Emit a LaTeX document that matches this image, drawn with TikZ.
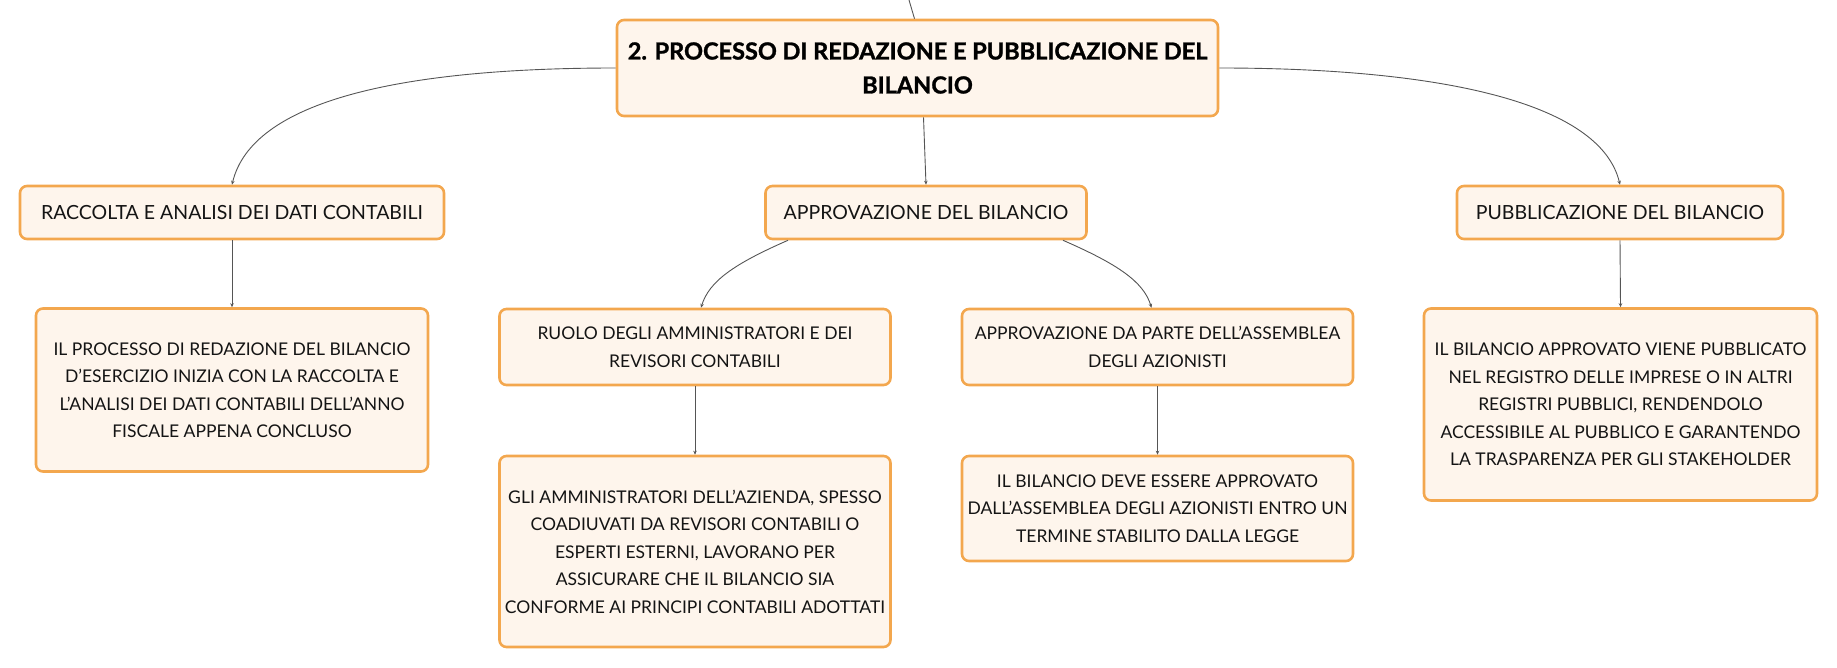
\documentclass[tikz,border=0pt]{standalone}
\usepackage{fontspec}
\setmainfont{Lato}
\newfontfamily\titlefont{Lato}[BoldFeatures={FakeBold=1.2}]
\usetikzlibrary{arrows.meta,calc}
\definecolor{boxfill}{HTML}{FEF5EC}
\definecolor{boxdraw}{HTML}{F3A74E}
\definecolor{linecol}{HTML}{555555}
\definecolor{txt}{HTML}{141414}
\begin{document}
\begin{tikzpicture}[x=1pt,y=1pt,
  box/.style={draw=boxdraw, line width=2.6pt, fill=boxfill, rounded corners=7pt,
    align=center, inner sep=0pt, text=txt, font=\fontsize{17.5}{27.5}\selectfont},
  lvlbox/.style={box, font=\fontsize{19.5}{28}\selectfont},
  titlebox/.style={box, text=black, font=\fontsize{23.5}{34}\selectfont\titlefont\bfseries},
  conn/.style={draw=linecol, line width=0.9pt},
  arr/.style={conn, -{Stealth[length=4pt,width=3.5pt]}}]
\useasboundingbox (0,0) rectangle (1837,-668);

\node[titlebox, minimum width=601pt, minimum height=96pt] (title) at (917.5,-68)
  {2. PROCESSO DI REDAZIONE E PUBBLICAZIONE DEL\\BILANCIO};

\node[lvlbox, minimum width=424pt, minimum height=53pt] (lc) at (232,-212.5)
  {RACCOLTA E ANALISI DEI DATI CONTABILI};
\node[lvlbox, minimum width=321pt, minimum height=53pt] (mc) at (926,-212.5)
  {APPROVAZIONE DEL BILANCIO};
\node[lvlbox, minimum width=326pt, minimum height=53pt] (rc) at (1620,-212.5)
  {PUBBLICAZIONE DEL BILANCIO};

\node[box, minimum width=392pt, minimum height=163pt] (ld) at (232,-390)
  {IL PROCESSO DI REDAZIONE DEL BILANCIO\\D’ESERCIZIO INIZIA CON LA RACCOLTA E\\L’ANALISI DEI DATI CONTABILI DELL’ANNO\\FISCALE APPENA CONCLUSO};
\node[box, minimum width=391pt, minimum height=76pt] (ruolo) at (695,-347)
  {RUOLO DEGLI AMMINISTRATORI E DEI\\REVISORI CONTABILI};
\node[box, minimum width=391pt, minimum height=191pt] (gli) at (695,-551.5)
  {GLI AMMINISTRATORI DELL’AZIENDA, SPESSO\\COADIUVATI DA REVISORI CONTABILI O\\ESPERTI ESTERNI, LAVORANO PER\\ASSICURARE CHE IL BILANCIO SIA\\CONFORME AI PRINCIPI CONTABILI ADOTTATI};
\node[box, minimum width=391pt, minimum height=76pt] (appr) at (1157.5,-347)
  {APPROVAZIONE DA PARTE DELL’ASSEMBLEA\\DEGLI AZIONISTI};
\node[box, minimum width=391pt, minimum height=105pt] (ilb) at (1157.5,-508.5)
  {IL BILANCIO DEVE ESSERE APPROVATO\\DALL’ASSEMBLEA DEGLI AZIONISTI ENTRO UN\\TERMINE STABILITO DALLA LEGGE};
\node[box, minimum width=393pt, minimum height=192pt] (rd) at (1620.5,-404.5)
  {IL BILANCIO APPROVATO VIENE PUBBLICATO\\NEL REGISTRO DELLE IMPRESE O IN ALTRI\\REGISTRI PUBBLICI, RENDENDOLO\\ACCESSIBILE AL PUBBLICO E GARANTENDO\\LA TRASPARENZA PER GLI STAKEHOLDER};

% incoming connector from above
\coordinate (top) at (909,0);
\draw[conn] (top) -- ($(title.north)+(-3,0)$);

% title to level 1
\draw[arr] (title.west) .. controls ($(title.west)+(-215,0)$) and ($(lc.north)+(20,84)$) .. (lc.north);
\draw[arr] (title.east) .. controls ($(title.east)+(215,0)$) and ($(rc.north)+(-20,84)$) .. (rc.north);
\draw[arr] ($(title.south)+(6,0)$) -- (mc.north);

% middle to level 2
\coordinate (mcl) at ($(mc.south)+(-138,0)$);
\coordinate (mcr) at ($(mc.south)+(137,0)$);
\coordinate (ruoloin) at ($(ruolo.north)+(6,0)$);
\coordinate (apprin) at ($(appr.north)+(-6,0)$);
\draw[arr] (mcl) .. controls ($(mcl)+(-55,-24)$) and ($(ruoloin)+(8,26)$) .. (ruoloin);
\draw[arr] (mcr) .. controls ($(mcr)+(55,-24)$) and ($(apprin)+(-8,26)$) .. (apprin);

% vertical connectors
\draw[arr] (lc.south) -- (ld.north);
\draw[arr] (ruolo.south) -- (gli.north);
\draw[arr] (appr.south) -- (ilb.north);
\draw[arr] (rc.south) -- (rd.north);
\end{tikzpicture}
\end{document}
